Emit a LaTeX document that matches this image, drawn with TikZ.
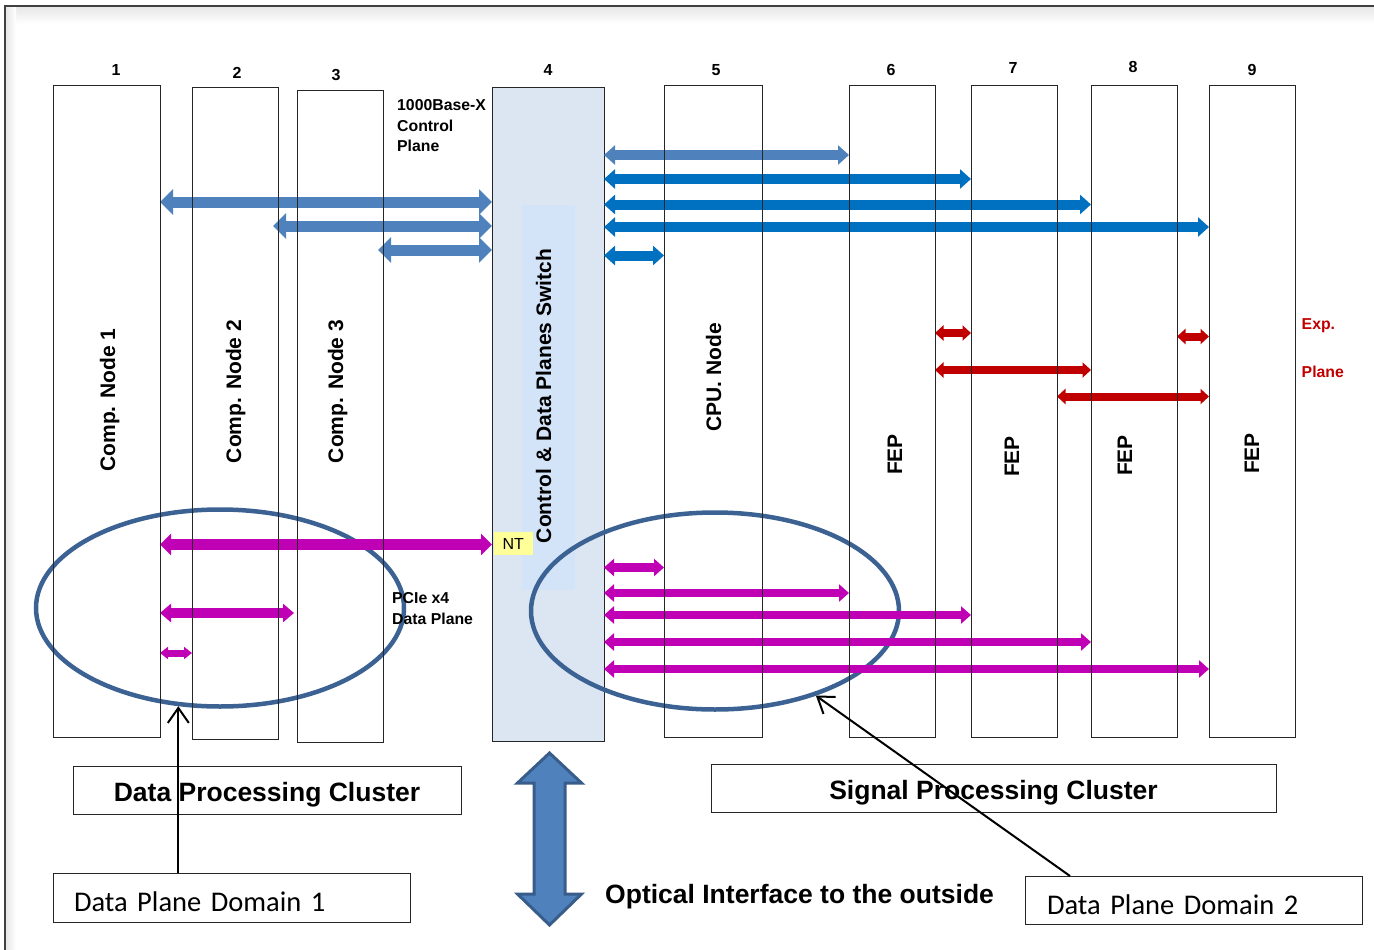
\documentclass[tikz,border=0pt]{standalone}
\usepackage{fontspec}
\setmainfont{Liberation Sans}
\newfontfamily\calibfont{Carlito}
\usetikzlibrary{arrows.meta,shapes.geometric,calc}

\definecolor{cblueL}{HTML}{4F81BD}
\definecolor{cblueD}{HTML}{0070C0}
\definecolor{cred}{HTML}{C00000}
\definecolor{cmag}{RGB}{192,0,180}
\definecolor{cring}{RGB}{59,98,146}
\definecolor{cedge}{HTML}{385D8A}
\definecolor{swfill}{HTML}{DCE6F2}
\definecolor{swcore}{HTML}{D3E4F9}
\definecolor{ntfill}{HTML}{FFFF99}

\tikzset{
  dbl/.style n args={3}{line width=#1,
    arrows={Triangle[length=#2,width=#3]-Triangle[length=#2,width=#3]}},
  ctrlL/.style={draw=cblueL, dbl={11pt}{13pt}{25pt}},
  ctrlT/.style={draw=cblueL, dbl={10pt}{11pt}{19pt}},
  ctrlR/.style={draw=cblueD, dbl={10pt}{11pt}{19pt}},
  expar/.style={draw=cred, dbl={8pt}{8.5pt}{15pt}},
  dataA/.style={draw=cmag, dbl={11pt}{11pt}{21pt}},
  dataB/.style={draw=cmag, dbl={10pt}{11pt}{18pt}},
  dataC/.style={draw=cmag, dbl={7pt}{8pt}{12pt}},
  dataR/.style={draw=cmag, dbl={8.5pt}{10pt}{17pt}},
  slotbox/.style={inner sep=0, outer sep=0, anchor=north west},
  slotline/.style={draw=black!85, line width=1pt},
  ringbox/.style={ellipse, draw=cring, line width=4.5pt, inner sep=0,
    minimum width=368, minimum height=197},
  pointer/.style={draw=black, line width=2pt,
    -{Straight Barb[length=15pt,width=21pt]}},
  numlabel/.style={anchor=base, inner sep=0, font=\bfseries\fontsize{16}{19}\selectfont},
  notelabel/.style={anchor=base west, inner sep=0, font=\bfseries\fontsize{15.8}{19}\selectfont},
  vlabel/.style={rotate=90, anchor=base, inner sep=0,
    font=\bfseries\fontsize{21}{24}\selectfont},
  clusterbox/.style={draw=black!85, line width=1pt, inner sep=0, outer sep=0,
    font=\bfseries\fontsize{26.5}{30}\selectfont, text height=22pt, text depth=0pt},
  calloutbox/.style={draw=black!85, line width=1pt, anchor=north west, outer sep=0,
    inner ysep=0, align=left, font=\calibfont\fontsize{28.5}{30}\selectfont,
    text height=28.4pt, text depth=0pt},
}

\begin{document}
\begin{tikzpicture}[x=1pt,y=-1pt]
\useasboundingbox (0,0) rectangle (1374,950);

% page edge with soft inner shadow
\shade[top color=black!10, bottom color=white] (5,6) rectangle (1374,24);
\shade[left color=black!10, right color=white] (5,6) rectangle (16,950);
\draw[black!75, line width=1.2pt] (5,950) -- (5,6) -- (1374,6);

% board slots
\node[slotbox, minimum width=107, minimum height=651] (b1) at (53,86) {};
\node[slotbox, minimum width=86,  minimum height=651] (b2) at (192,88) {};
\node[slotbox, minimum width=86,  minimum height=651] (b3) at (297,91) {};
\node[slotbox, minimum width=112, minimum height=653, fill=swfill, draw=black!85, line width=1pt] (b4) at (492,88) {};
\node[slotbox, minimum width=98,  minimum height=651] (b5) at (664,86) {};
\node[slotbox, minimum width=86,  minimum height=651] (b6) at (849,86) {};
\node[slotbox, minimum width=86,  minimum height=651] (b7) at (971,86) {};
\node[slotbox, minimum width=86,  minimum height=651] (b8) at (1091,86) {};
\node[slotbox, minimum width=86,  minimum height=651] (b9) at (1209,86) {};

% switch core
\node[slotbox, minimum width=53, minimum height=385, fill=swcore] (core) at (522,205) {};

% data plane domains
\node[ringbox] (e1) at (220,608) {};
\node[ringbox] (e2) at (715,611) {};

% control plane links
\draw[ctrlL] (b1.east |- 0,202) -- (b4.west |- 0,202);
\draw[ctrlL] ($(b2.east |- 0,226)+(-5,0)$) -- (b4.west |- 0,226);
\draw[ctrlL] ($(b3.east |- 0,250)+(-5,0)$) -- (b4.west |- 0,250);
\draw[ctrlT] (b4.east |- 0,155) -- (b6.west |- 0,155);
\draw[ctrlR] (b4.east |- 0,179) -- (b7.west |- 0,179);
\draw[ctrlR] (b4.east |- 0,204.5) -- (b8.west |- 0,204.5);
\draw[ctrlR] (b4.east |- 0,227) -- (b9.west |- 0,227);
\draw[ctrlR] (b4.east |- 0,255.5) -- (b5.west |- 0,255.5);

% expansion plane links
\draw[expar] (b6.east |- 0,333) -- (b7.west |- 0,333);
\draw[expar] (b8.east |- 0,336.5) -- (b9.west |- 0,336.5);
\draw[expar] (b6.east |- 0,370) -- (b8.west |- 0,370);
\draw[expar] (b7.east |- 0,396.5) -- (b9.west |- 0,396.5);

% PCIe data plane links
\draw[dataA] (b1.east |- 0,544.5) -- (b4.west |- 0,544.5);
\draw[dataB] (b1.east |- 0,613) -- ($(b3.west |- 0,613)+(-3,0)$);
\draw[dataC] (b1.east |- 0,653) -- (b2.west |- 0,653);
\draw[dataR] (b4.east |- 0,567.5) -- (b5.west |- 0,567.5);
\draw[dataR] (b4.east |- 0,593) -- (b6.west |- 0,593);
\draw[dataR] (b4.east |- 0,615) -- (b7.west |- 0,615);
\draw[dataR] (b4.east |- 0,642) -- (b8.west |- 0,642);
\draw[dataR] (b4.east |- 0,669) -- (b9.west |- 0,669);

% slot outlines on top of the links
\foreach \b in {b1,b2,b3,b5,b6,b7,b8,b9}
  \draw[slotline] (\b.north west) rectangle (\b.south east);

% slot numbers
\node[numlabel] (n1) at (116,75) {1};
\node[numlabel] (n2) at (237,79) {2};
\node[numlabel] (n3) at (336,80.5) {3};
\node[numlabel] (n4) at (548,76) {4};
\node[numlabel] (n5) at (716,75) {5};
\node[numlabel] (n6) at (891,76) {6};
\node[numlabel] (n7) at (1013,74) {7};
\node[numlabel] (n8) at (1133,73) {8};
\node[numlabel] (n9) at (1252,75) {9};

% slot names
\node[vlabel] (t1) at (115,400) {Comp. Node 1};
\node[vlabel] (t2) at (241,391.5) {Comp. Node 2};
\node[vlabel] (t3) at (343,391.5) {Comp. Node 3};
\node[vlabel] (t4) at (551,396) {Control \& Data Planes Switch};
\node[vlabel] (t5) at (721,377.5) {CPU. Node};
\node[vlabel] (t6) at (902,454.5) {FEP};
\node[vlabel] (t7) at (1019,456.5) {FEP};
\node[vlabel] (t8) at (1132,455.5) {FEP};
\node[vlabel] (t9) at (1259,453.5) {FEP};

% plane notes
\node[notelabel] (cp1) at (397,110.7) {1000Base-X};
\node[notelabel] (cp2) at (397,131.2) {Control};
\node[notelabel] (cp3) at (397,151.7) {Plane};
\node[notelabel] (dp1) at (392,603.3) {PCIe x4};
\node[notelabel] (dp2) at (392,624) {Data Plane};
\node[notelabel, text=cred] (ep1) at (1301.5,329.3) {Exp.};
\node[notelabel, text=cred] (ep2) at (1301.5,377.3) {Plane};

% non-transparent bridge tag
\node[fill=ntfill, minimum width=39, minimum height=22.5, inner sep=0,
  font=\fontsize{16}{19}\selectfont] (nt) at (513.3,543.7) {NT};

% optical interface
\draw[draw=cedge, fill=cblueL, line width=3pt, line join=miter]
  (549.5,753) -- (581.5,783) -- (565,783) -- (565,894) -- (581.5,894)
  -- (549.5,925) -- (517.5,894) -- (534,894) -- (534,783) -- (517.5,783) -- cycle;
\node[anchor=base west, inner sep=0, font=\bfseries\fontsize{26.5}{30}\selectfont]
  (opt) at (605,903) {Optical Interface to the outside};

% clusters
\node[clusterbox, minimum width=388, minimum height=48] (c1) at (267,790) {Data Processing Cluster};
\node[clusterbox, minimum width=565, minimum height=48] (c2) at (993.5,788) {Signal Processing Cluster};

% domain callouts
\node[calloutbox, minimum width=357, minimum height=49, inner xsep=21, text width=315] (d1) at (53,873) {Data Plane Domain 1};
\node[calloutbox, minimum width=337, minimum height=48, inner xsep=22, text width=293] (d2) at (1025,876) {Data Plane Domain 2};

\draw[pointer] (e1.-113 |- d1.north) -- (e1.-113);
\draw[pointer] ($(d2.north west)+(45,0)$) -- (e2.-40);
\end{tikzpicture}
\end{document}
